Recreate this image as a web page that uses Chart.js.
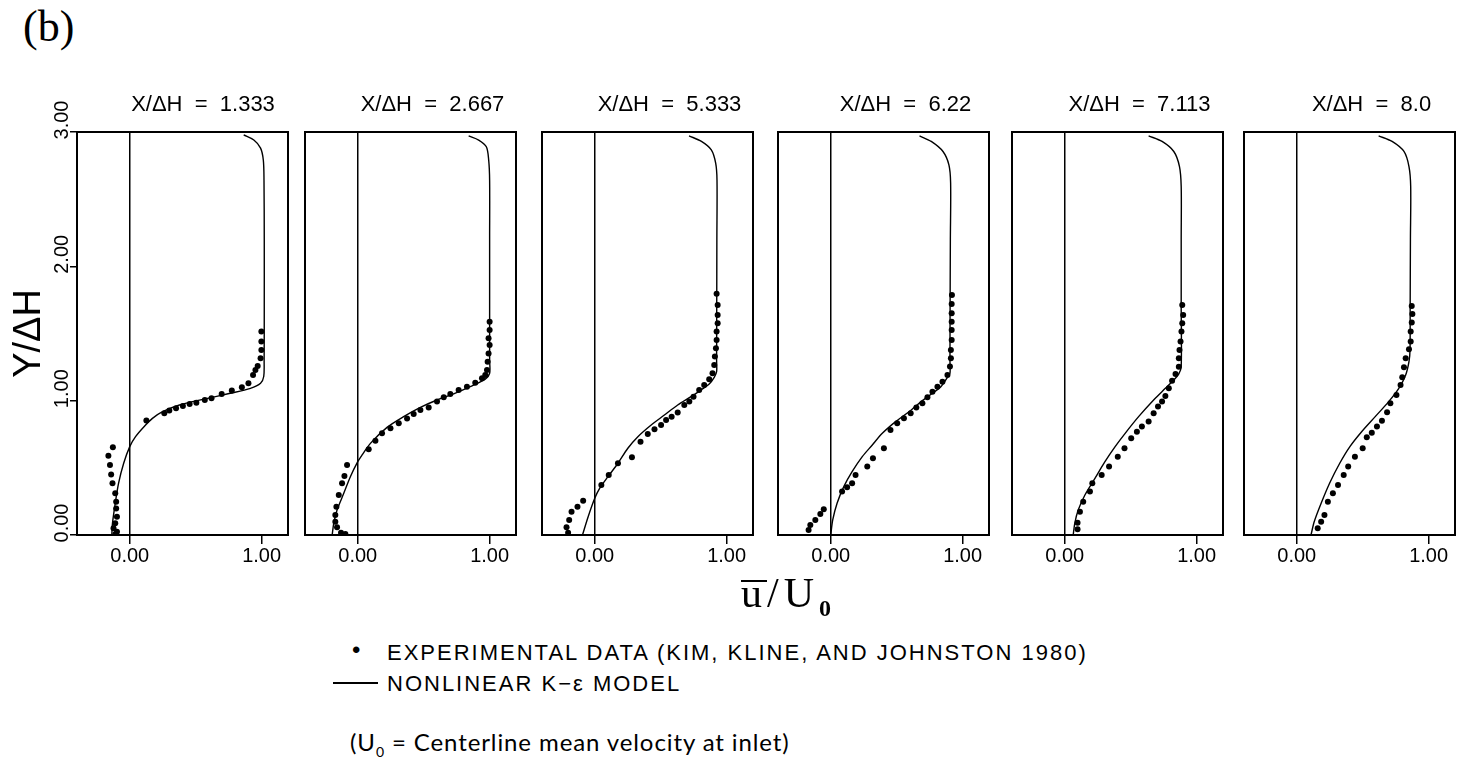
<!DOCTYPE html>
<html>
<head>
<meta charset="utf-8">
<script src="https://cdn.jsdelivr.net/npm/chart.js@4.4.1/dist/chart.umd.min.js"></script>
<style>
  body { margin: 0; background: #fff; }
  #page { position: relative; width: 1466px; height: 768px; overflow: hidden; font-family: "Liberation Sans", sans-serif; color: #000; }
  .panel { position: absolute; top: 85px; }
  .txt { position: absolute; white-space: nowrap; }
  .ubar { display: inline-block; border-top: 2px solid #000; line-height: 22px; }
</style>
</head>
<body>
<div id="page">
  <div class="txt" style="left:23px; top:1px; font: 44px 'Liberation Serif', serif;">(b)</div>

  <div class="panel" style="left:0px"><canvas id="c0" width="406" height="500"></canvas></div>
  <div class="panel" style="left:301px"><canvas id="c1" width="259" height="500"></canvas></div>
  <div class="panel" style="left:538px"><canvas id="c2" width="259" height="500"></canvas></div>
  <div class="panel" style="left:774px"><canvas id="c3" width="259" height="500"></canvas></div>
  <div class="panel" style="left:1008px"><canvas id="c4" width="259" height="500"></canvas></div>
  <div class="panel" style="left:1240px"><canvas id="c5" width="259" height="500"></canvas></div>

  <div class="txt" style="left:741px; top:569px; font: 42px 'Liberation Serif', serif; line-height: 48px; letter-spacing: 5px;"><span class="ubar">u</span>/U<sub style="font-size:24px; font-weight:bold">0</sub></div>

  <div class="txt" style="left:352px; top:636px; font: 24px 'Liberation Sans', sans-serif;">•</div>
  <div class="txt" style="left:387px; top:640px; font: 22px 'Liberation Sans', sans-serif; letter-spacing: 2px;">EXPERIMENTAL DATA (KIM, KLINE, AND JOHNSTON 1980)</div>
  <div style="position:absolute; left:333px; top:682px; width:45px; height:2px; background:#000;"></div>
  <div class="txt" style="left:387px; top:671px; font: 22px 'Liberation Sans', sans-serif; letter-spacing: 2px;">NONLINEAR K−ε MODEL</div>
  <div class="txt" style="left:350px; top:727px; font: 24px 'Lato', sans-serif; letter-spacing: 0.9px;">(U<sub style="font-size:14px">0</sub> = Centerline mean velocity at inlet)</div>
</div>

<script>
// stations along the channel
const stations = ['1.333', '2.667', '5.333', '6.22', '7.113', '8.0'];

// axes
const uMin = -0.4, uMax = 1.2;
const yTicks = [0, 1, 2, 3];
const uTicks = [0, 1];

// nonlinear k-epsilon model, [u/U0, Y/dH]
const model1 = [[0.864,2.978],[0.941,2.94],[0.992,2.88],[1.013,2.79],[1.018,2.64],[1.02,2.2],[1.02,1.7],[1.019,1.3],[1.016,1.18],[0.992,1.13],[0.915,1.092],[0.762,1.055],[0.556,1.01],[0.377,0.968],[0.249,0.918],[0.172,0.868],[0.108,0.806],[0.044,0.732],[0.0,0.658],[-0.046,0.534],[-0.085,0.385],[-0.11,0.236],[-0.131,0.087],[-0.136,0.0]];
const model2 = [[0.841,2.971],[0.917,2.94],[0.975,2.89],[0.993,2.79],[1.0,2.64],[1.0,2.2],[1.0,1.7],[1.0,1.3],[1.0,1.204],[0.967,1.16],[0.853,1.104],[0.727,1.05],[0.601,1.005],[0.475,0.95],[0.348,0.881],[0.222,0.801],[0.096,0.682],[0.033,0.596],[0.0,0.546],[-0.056,0.434],[-0.106,0.31],[-0.157,0.186],[-0.182,0.087],[-0.194,0.0]];
const model3 = [[0.715,2.971],[0.809,2.93],[0.884,2.867],[0.917,2.768],[0.927,2.643],[0.926,2.2],[0.925,1.7],[0.924,1.3],[0.924,1.216],[0.906,1.174],[0.868,1.124],[0.805,1.079],[0.73,1.03],[0.629,0.968],[0.528,0.893],[0.428,0.819],[0.327,0.732],[0.251,0.646],[0.176,0.534],[0.1,0.434],[0.037,0.347],[0.0,0.273],[-0.05,0.136],[-0.093,0.0]];
const model4 = [[0.673,2.971],[0.762,2.93],[0.851,2.855],[0.896,2.755],[0.909,2.62],[0.907,2.2],[0.905,1.7],[0.904,1.3],[0.904,1.204],[0.885,1.174],[0.835,1.104],[0.771,1.055],[0.695,1.0],[0.594,0.918],[0.492,0.844],[0.391,0.757],[0.315,0.67],[0.239,0.583],[0.162,0.471],[0.099,0.36],[0.048,0.236],[0.015,0.112],[0.0,0.0]];
const model5 = [[0.636,2.971],[0.738,2.93],[0.827,2.855],[0.87,2.743],[0.883,2.594],[0.883,2.2],[0.883,1.7],[0.883,1.253],[0.865,1.2],[0.827,1.154],[0.763,1.092],[0.674,1.005],[0.56,0.881],[0.458,0.757],[0.382,0.658],[0.305,0.546],[0.229,0.422],[0.153,0.298],[0.102,0.186],[0.076,0.087],[0.064,0.0]];
const model6 = [[0.621,2.971],[0.723,2.93],[0.813,2.855],[0.851,2.743],[0.864,2.594],[0.862,2.2],[0.86,1.7],[0.859,1.378],[0.851,1.29],[0.826,1.191],[0.774,1.092],[0.697,0.993],[0.595,0.881],[0.492,0.769],[0.403,0.658],[0.326,0.534],[0.249,0.385],[0.185,0.236],[0.133,0.1],[0.108,0.0]];

// experimental data (Kim, Kline and Johnston 1980)
const exp1 = [[0.998,1.514],[0.998,1.44],[0.998,1.378],[0.992,1.316],[0.97,1.258],[0.953,1.229],[0.935,1.191],[0.90,1.13],[0.85,1.10],[0.774,1.075],[0.697,1.05],[0.62,1.018],[0.569,1.005],[0.505,0.985],[0.454,0.975],[0.403,0.96],[0.351,0.943],[0.30,0.926],[0.262,0.906],[0.126,0.852],[-0.128,0.653],[-0.162,0.59],[-0.15,0.521],[-0.141,0.45],[-0.131,0.385],[-0.11,0.31],[-0.103,0.248],[-0.103,0.198],[-0.097,0.136],[-0.11,0.087],[-0.123,0.05],[-0.097,0.025],[-0.11,0.005]];
const exp2 = [[1.0,1.588],[1.0,1.526],[0.992,1.464],[1.0,1.414],[0.992,1.352],[0.985,1.29],[0.98,1.229],[0.967,1.191],[0.942,1.166],[0.891,1.134],[0.828,1.104],[0.765,1.079],[0.702,1.05],[0.652,1.025],[0.601,0.993],[0.538,0.95],[0.475,0.931],[0.424,0.9],[0.374,0.868],[0.311,0.831],[0.248,0.794],[0.184,0.757],[0.134,0.702],[0.083,0.638],[-0.081,0.521],[-0.101,0.439],[-0.119,0.385],[-0.144,0.298],[-0.162,0.211],[-0.17,0.149],[-0.17,0.099],[-0.157,0.057],[-0.127,0.017],[-0.094,0.007]];
const exp3 = [[0.924,1.795],[0.932,1.713],[0.932,1.638],[0.932,1.576],[0.924,1.514],[0.924,1.452],[0.919,1.39],[0.911,1.328],[0.906,1.266],[0.893,1.204],[0.868,1.159],[0.83,1.117],[0.792,1.079],[0.749,1.03],[0.717,0.993],[0.679,0.968],[0.629,0.911],[0.583,0.881],[0.541,0.856],[0.503,0.819],[0.453,0.787],[0.402,0.751],[0.347,0.695],[0.282,0.578],[0.176,0.534],[0.106,0.447],[0.05,0.372],[-0.088,0.255],[-0.131,0.211],[-0.176,0.174],[-0.194,0.112],[-0.214,0.057],[-0.202,0.017]];
const exp4 = [[0.919,1.787],[0.917,1.72],[0.917,1.65],[0.917,1.588],[0.917,1.526],[0.917,1.452],[0.911,1.378],[0.911,1.316],[0.904,1.254],[0.885,1.191],[0.847,1.141],[0.809,1.104],[0.771,1.067],[0.733,1.025],[0.695,0.98],[0.649,0.95],[0.606,0.906],[0.555,0.869],[0.504,0.831],[0.453,0.781],[0.403,0.645],[0.32,0.571],[0.277,0.509],[0.188,0.447],[0.162,0.385],[0.124,0.355],[0.086,0.323],[-0.053,0.191],[-0.079,0.156],[-0.117,0.112],[-0.155,0.074],[-0.168,0.037]];
const exp5 = [[0.891,1.713],[0.898,1.638],[0.891,1.576],[0.885,1.514],[0.878,1.44],[0.87,1.378],[0.865,1.316],[0.865,1.253],[0.84,1.199],[0.814,1.149],[0.789,1.092],[0.763,1.035],[0.738,0.993],[0.707,0.956],[0.674,0.906],[0.636,0.844],[0.585,0.807],[0.547,0.769],[0.504,0.72],[0.453,0.645],[0.402,0.583],[0.336,0.509],[0.28,0.447],[0.209,0.385],[0.191,0.323],[0.14,0.248],[0.115,0.174],[0.097,0.092],[0.097,0.042]];
const exp6 = [[0.872,1.705],[0.877,1.646],[0.872,1.581],[0.864,1.514],[0.864,1.44],[0.851,1.383],[0.826,1.316],[0.813,1.248],[0.8,1.174],[0.787,1.117],[0.756,1.042],[0.71,0.98],[0.685,0.913],[0.646,0.851],[0.608,0.807],[0.569,0.762],[0.531,0.727],[0.5,0.645],[0.441,0.583],[0.39,0.509],[0.356,0.447],[0.313,0.372],[0.274,0.31],[0.236,0.248],[0.21,0.149],[0.185,0.099],[0.159,0.05]];

const models = [model1, model2, model3, model4, model5, model6];
const experiments = [exp1, exp2, exp3, exp4, exp5, exp6];

Chart.defaults.font.family = "'Liberation Sans', sans-serif";
Chart.defaults.color = '#000';

const toXY = arr => arr.map(p => ({ x: p[0], y: p[1] }));
const frame = { display: true, color: '#000', width: 2 };

function makePanel(i) {
    const first = i === 0;
    const canvas = document.getElementById('c' + i);

    new Chart(canvas, {
        type: 'scatter',
        data: {
            datasets: [{
                label: 'Nonlinear k-ε model',
                data: toXY(models[i]),
                showLine: true,
                borderColor: '#000',
                borderWidth: 1.4,
                pointRadius: 0,
                tension: 0.3
            }, {
                label: 'Experimental data',
                data: toXY(experiments[i]),
                pointRadius: 3,
                pointBackgroundColor: '#000',
                pointBorderWidth: 0
            }]
        },
        options: {
            responsive: false,
            animation: false,
            events: [],
            layout: { padding: { left: first ? 0 : 4, right: 0, top: 0, bottom: 0 } },
            plugins: {
                legend: { display: false },
                tooltip: { enabled: false },
                title: {
                    display: true,
                    text: 'X/ΔH  =  ' + stations[i],
                    font: { size: 22, weight: 'normal' },
                    padding: { top: 7, bottom: 13.6 }
                }
            },
            scales: {
                x: {
                    type: 'linear',
                    position: 'bottom',
                    min: uMin,
                    max: uMax,
                    afterBuildTicks: s => { s.ticks = uTicks.map(v => ({ value: v })); },
                    afterFit: s => { s.height = 50; },
                    ticks: {
                        font: { size: 20 },
                        padding: 0,
                        callback: v => Number(v).toFixed(2)
                    },
                    grid: {
                        color: c => (c.tick && c.tick.value === 0) ? '#000' : 'rgba(0,0,0,0)',
                        tickColor: '#000',
                        lineWidth: 1.5,
                        tickLength: 9
                    },
                    border: frame
                },
                xTop: {
                    type: 'linear',
                    position: 'top',
                    ticks: { display: false },
                    grid: { display: false },
                    afterFit: s => { s.height = 0; },
                    border: frame
                },
                y: {
                    type: 'linear',
                    position: 'left',
                    min: 0,
                    max: 3,
                    afterBuildTicks: s => { s.ticks = yTicks.map(v => ({ value: v })); },
                    afterFit: s => { s.width = first ? 77 : 0; },
                    ticks: {
                        display: first,
                        font: { size: 20 },
                        minRotation: 90,
                        maxRotation: 90,
                        crossAlign: 'center',
                        padding: -12,
                        labelOffset: -12,
                        callback: v => Number(v).toFixed(2)
                    },
                    grid: {
                        display: first,
                        drawOnChartArea: false,
                        tickColor: '#000',
                        tickLength: 7,
                        lineWidth: 1.5
                    },
                    title: {
                        display: first,
                        text: 'Y/ΔH',
                        font: { size: 38 },
                        padding: { top: 7, bottom: 0 }
                    },
                    border: frame
                },
                yRight: {
                    type: 'linear',
                    position: 'right',
                    ticks: { display: false },
                    grid: { display: false },
                    afterFit: s => { s.width = first ? 118 : 44; },
                    border: frame
                }
            }
        }
    });
}

stations.forEach((s, i) => makePanel(i));
</script>
</body>
</html>
